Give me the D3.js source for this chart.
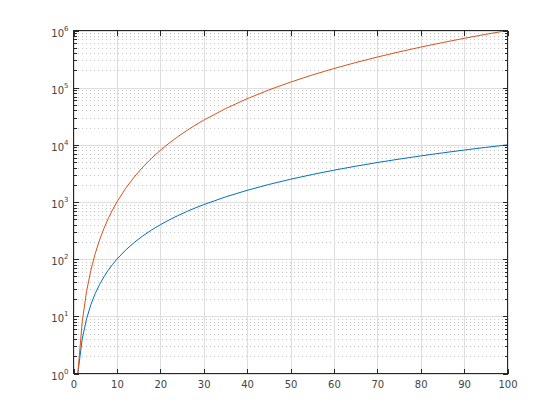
<!DOCTYPE html>
<html>
<head>
<meta charset="utf-8">
<script src="https://cdn.jsdelivr.net/npm/d3@7"></script>
<style>
  body { margin: 0; background: #fff; }
  svg { display: block; }
</style>
</head>
<body>
<div class="chart"></div>
<script>
// x 取样点
const xs = [1, 2, 3, 4, 5, 6, 7, 8, 9, 10, 12, 14, 16, 18, 20, 22, 24, 26, 28, 30,
  35, 40, 45, 50, 55, 60, 65, 70, 75, 80, 85, 90, 95, 100]
// 蓝线
const squares = [1, 4, 9, 16, 25, 36, 49, 64, 81, 100, 144, 196, 256, 324, 400, 484,
  576, 676, 784, 900, 1225, 1600, 2025, 2500, 3025, 3600, 4225, 4900, 5625, 6400,
  7225, 8100, 9025, 10000]
// 橙线
const cubes = [1, 8, 27, 64, 125, 216, 343, 512, 729, 1000, 1728, 2744, 4096, 5832,
  8000, 10648, 13824, 17576, 21952, 27000, 42875, 64000, 91125, 125000, 166375,
  216000, 274625, 343000, 421875, 512000, 614125, 729000, 857375, 1000000]
// 刻度
const xTicks = [0, 10, 20, 30, 40, 50, 60, 70, 80, 90, 100]
const yExponents = [0, 1, 2, 3, 4, 5, 6]

const config = {
  width: 560,
  height: 420,
  left: 73.5,
  right: 507.5,
  top: 30.5,
  bottom: 373.5,
  axisColor: "#262626",
  textColor: "#444444",
  font: "'DejaVu Sans', sans-serif",
}

const svg = d3.select(".chart").append("svg")
  .attr("width", config.width)
  .attr("height", config.height)

svg.append("rect")
  .attr("width", config.width)
  .attr("height", config.height)
  .attr("fill", "#fff")

const scaleX = d3.scaleLinear().domain([0, 100]).range([config.left, config.right])
const scaleY = d3.scaleLog().domain([1, 1e6]).range([config.bottom, config.top])

const majorY = yExponents.map((e) => Math.pow(10, e))
const minorY = []
yExponents.slice(0, -1).forEach((e) => {
  for (let k = 2; k <= 9; k++) minorY.push(k * Math.pow(10, e))
})

// 网格线
const grid = svg.append("g").attr("shape-rendering", "crispEdges")
grid.selectAll(".minor").data(minorY).join("line")
  .attr("x1", config.left).attr("x2", config.right)
  .attr("y1", (d) => Math.round(scaleY(d)) + 0.5)
  .attr("y2", (d) => Math.round(scaleY(d)) + 0.5)
  .attr("stroke", "#c4c4c4")
  .attr("stroke-dasharray", "1,3")
grid.selectAll(".majorY").data(majorY).join("line")
  .attr("x1", config.left).attr("x2", config.right)
  .attr("y1", (d) => Math.round(scaleY(d)) + 0.5)
  .attr("y2", (d) => Math.round(scaleY(d)) + 0.5)
  .attr("stroke", "#dedede")
grid.selectAll(".majorX").data(xTicks).join("line")
  .attr("x1", (d) => Math.round(scaleX(d)) + 0.5)
  .attr("x2", (d) => Math.round(scaleX(d)) + 0.5)
  .attr("y1", config.top).attr("y2", config.bottom)
  .attr("stroke", "#dedede")

// 曲线
const line = d3.line()
  .x((d) => scaleX(d[0]))
  .y((d) => scaleY(d[1]))

svg.append("path")
  .datum(xs.map((x, i) => [x, squares[i]]))
  .attr("d", line)
  .attr("fill", "none")
  .attr("stroke", "#0072BD")
  .attr("stroke-width", 1)

svg.append("path")
  .datum(xs.map((x, i) => [x, cubes[i]]))
  .attr("d", line)
  .attr("fill", "none")
  .attr("stroke", "#D95319")
  .attr("stroke-width", 1)

// 坐标轴
function styleAxis(g) {
  g.select(".domain").remove()
  g.selectAll(".tick line")
    .attr("stroke", config.axisColor)
    .attr("shape-rendering", "crispEdges")
}

svg.append("g")
  .attr("transform", `translate(0,${config.bottom})`)
  .call(d3.axisBottom(scaleX).tickValues(xTicks).tickSize(-5).tickPadding(7))
  .call(styleAxis)
  .call((g) => g.selectAll("text")
    .attr("fill", config.textColor)
    .attr("font-size", 10)
    .attr("font-family", config.font))

svg.append("g")
  .attr("transform", `translate(0,${config.top})`)
  .call(d3.axisTop(scaleX).tickValues(xTicks).tickSize(-5).tickFormat(""))
  .call(styleAxis)

svg.append("g")
  .attr("transform", `translate(${config.left},0)`)
  .call(d3.axisLeft(scaleY).tickValues(majorY).tickSize(-5).tickFormat(""))
  .call(styleAxis)
svg.append("g")
  .attr("transform", `translate(${config.left},0)`)
  .call(d3.axisLeft(scaleY).tickValues(minorY).tickSize(-3).tickFormat(""))
  .call(styleAxis)
svg.append("g")
  .attr("transform", `translate(${config.right},0)`)
  .call(d3.axisRight(scaleY).tickValues(majorY).tickSize(-5).tickFormat(""))
  .call(styleAxis)
svg.append("g")
  .attr("transform", `translate(${config.right},0)`)
  .call(d3.axisRight(scaleY).tickValues(minorY).tickSize(-3).tickFormat(""))
  .call(styleAxis)

// y 轴标签 10^n
const yLabels = svg.append("g")
  .attr("font-family", config.font)
  .attr("fill", config.textColor)
yExponents.forEach((e) => {
  const t = yLabels.append("text")
    .attr("x", config.left - 5)
    .attr("y", scaleY(Math.pow(10, e)) + 6)
    .attr("text-anchor", "end")
    .attr("font-size", 10)
  t.append("tspan").text("10")
  t.append("tspan").attr("font-size", 7).attr("dy", -6).text(e)
})

// 外框
svg.append("rect")
  .attr("x", config.left)
  .attr("y", config.top)
  .attr("width", config.right - config.left)
  .attr("height", config.bottom - config.top)
  .attr("fill", "none")
  .attr("stroke", config.axisColor)
  .attr("shape-rendering", "crispEdges")
</script>
</body>
</html>
